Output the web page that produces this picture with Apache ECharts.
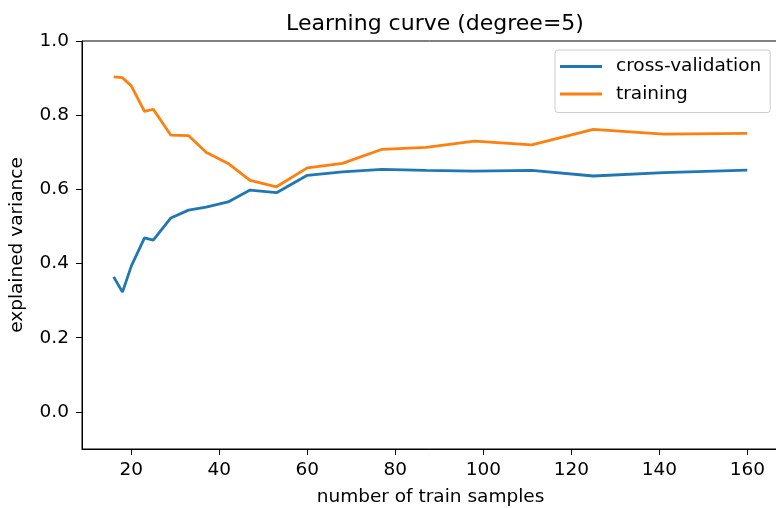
<!DOCTYPE html>
<html lang="en">
<head>
  <meta charset="UTF-8">
  <title>Learning curve (degree=5)</title>
  <script src="https://cdn.jsdelivr.net/npm/echarts@6/dist/echarts.min.js"></script>
  <style>
    html, body { margin: 0; padding: 0; background: #fff; }
    #target { width: 776px; height: 508px; }
  </style>
</head>
<body>
  <div id="target"></div>
  <script>
    const trainSizes = [16, 18, 20, 23, 25, 29, 33, 37, 42, 47, 53, 60, 68, 77, 87, 98, 111, 125, 141, 160];
    const cvScores = [0.364, 0.323, 0.393, 0.469, 0.463, 0.523, 0.544, 0.552, 0.566, 0.598, 0.591,
      0.638, 0.647, 0.654, 0.651, 0.649, 0.651, 0.636, 0.645, 0.652];
    const trainScores = [0.903, 0.901, 0.879, 0.81, 0.816, 0.746, 0.745, 0.70, 0.67, 0.624, 0.607,
      0.658, 0.67, 0.708, 0.713, 0.730, 0.72, 0.762, 0.749, 0.751];
    const xTicks = [20, 40, 60, 80, 100, 120, 140, 160];
    const yTicks = [0, 0.2, 0.4, 0.6, 0.8, 1.0];

    const font = 'DejaVu Sans';
    const fs = 18.5;
    const pairs = (ys) => trainSizes.map((x, i) => [x, ys[i]]);

    const option = {
      animation: false,
      backgroundColor: '#fff',
      textStyle: { fontFamily: font },
      title: {
        text: 'Learning curve (degree=5)',
        left: 430,
        textAlign: 'center',
        top: 8,
        textStyle: { fontFamily: font, fontSize: 22, fontWeight: 'normal', color: '#000' }
      },
      grid: {
        left: 82, right: -3, top: 41, bottom: 59,
        outerBoundsMode: 'none',
        containLabel: false,
        show: true, borderColor: '#000', borderWidth: 1
      },
      legend: {
        orient: 'vertical',
        left: 555,
        top: 50,
        padding: [7, 9, 9, 5],
        itemWidth: 42,
        itemHeight: 3,
        itemGap: 8.5,
        icon: 'rect',
        borderColor: '#ccc',
        borderWidth: 1,
        borderRadius: 3,
        textStyle: { fontFamily: font, fontSize: fs, color: '#000', padding: [0, 0, 0, 9] },
        data: ['cross-validation', 'training']
      },
      xAxis: {
        type: 'value',
        min: 8.8,
        max: 167.2,
        name: 'number of train samples',
        nameLocation: 'middle',
        nameGap: 39,
        nameTextStyle: { fontFamily: font, fontSize: fs, color: '#000' },
        axisLine: { show: true, onZero: false, lineStyle: { color: '#000' } },
        axisTick: { show: true, inside: false, length: 6, customValues: xTicks, lineStyle: { color: '#000' } },
        axisLabel: { customValues: xTicks, fontFamily: font, fontSize: fs, color: '#000', margin: 12 },
        splitLine: { show: false }
      },
      yAxis: {
        type: 'value',
        min: -0.1,
        max: 1.0,
        name: 'explained variance',
        nameLocation: 'middle',
        nameGap: 55,
        nameTextStyle: { fontFamily: font, fontSize: fs, color: '#000' },
        axisLine: { show: true, onZero: false, lineStyle: { color: '#000' } },
        axisTick: { show: true, inside: false, length: 6, customValues: yTicks, lineStyle: { color: '#000' } },
        axisLabel: {
          customValues: yTicks, fontFamily: font, fontSize: fs, color: '#000', margin: 13,
          formatter: (v) => v.toFixed(1)
        },
        splitLine: { show: false }
      },
      series: [
        {
          name: 'cross-validation',
          type: 'line',
          data: pairs(cvScores),
          showSymbol: false,
          color: '#1f77b4',
          lineStyle: { width: 2.8, color: '#1f77b4' }
        },
        {
          name: 'training',
          type: 'line',
          data: pairs(trainScores),
          showSymbol: false,
          color: '#ff7f0e',
          lineStyle: { width: 2.8, color: '#ff7f0e' }
        }
      ]
    };
    echarts.init(document.getElementById('target')).setOption(option);
  </script>
</body>
</html>
